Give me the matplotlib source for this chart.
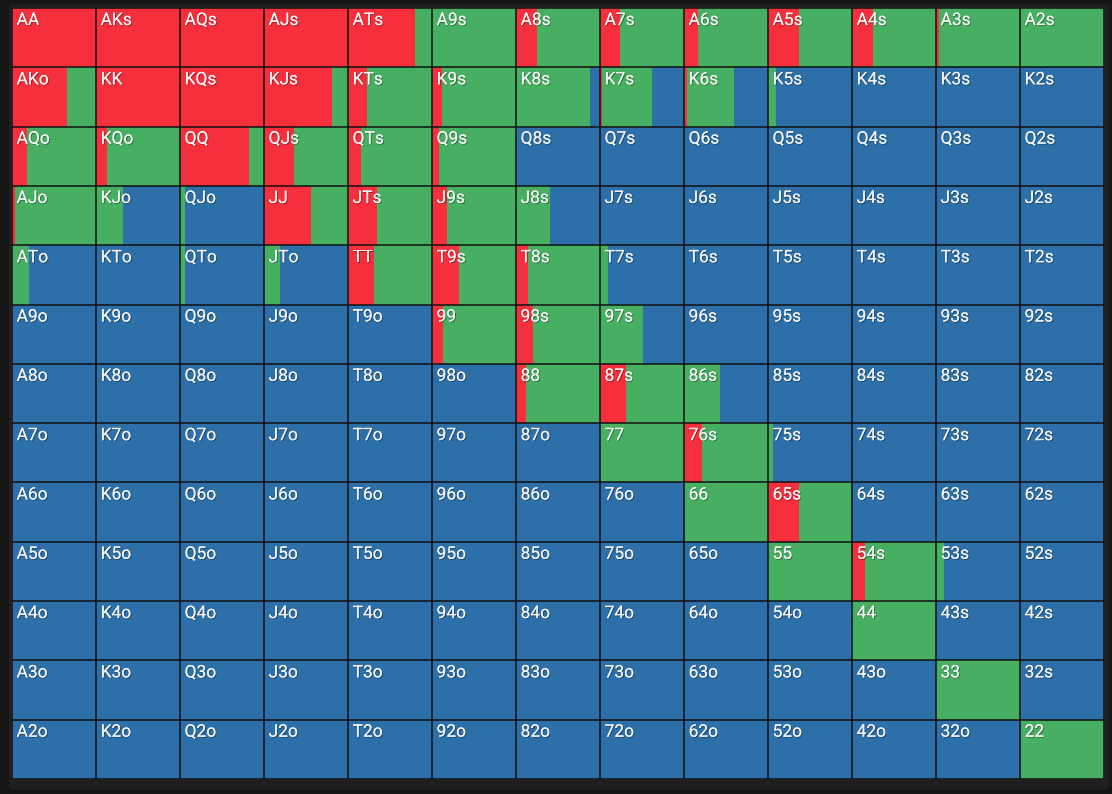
import matplotlib
matplotlib.use("Agg")
import matplotlib.pyplot as plt
import matplotlib.patheffects as pe
from matplotlib.patches import FancyBboxPatch

# ranks, rows/cols of the hand grid
ranks = ["A", "K", "Q", "J", "T", "9", "8", "7", "6", "5", "4", "3", "2"]

# raise frequency per hand (row, col)
raise_freq = [
    [1, 1, 1, 1, 0.80, 0, 0.25, 0.24, 0.17, 0.37, 0.25, 0.03, 0],
    [0.65, 1, 1, 0.81, 0.23, 0.12, 0, 0.02, 0.035, 0, 0, 0, 0],
    [0.18, 0.13, 0.82, 0.36, 0.15, 0.08, 0, 0, 0, 0, 0, 0, 0],
    [0.03, 0, 0, 0.56, 0.34, 0.18, 0, 0, 0, 0, 0, 0, 0],
    [0, 0, 0, 0, 0.31, 0.32, 0.14, 0, 0, 0, 0, 0, 0],
    [0, 0, 0, 0, 0, 0.13, 0.20, 0, 0, 0, 0, 0, 0],
    [0, 0, 0, 0, 0, 0, 0.12, 0.31, 0, 0, 0, 0, 0],
    [0, 0, 0, 0, 0, 0, 0, 0, 0.21, 0, 0, 0, 0],
    [0, 0, 0, 0, 0, 0, 0, 0, 0, 0.37, 0, 0, 0],
    [0, 0, 0, 0, 0, 0, 0, 0, 0, 0, 0.15, 0, 0],
    [0, 0, 0, 0, 0, 0, 0, 0, 0, 0, 0, 0, 0],
    [0, 0, 0, 0, 0, 0, 0, 0, 0, 0, 0, 0, 0],
    [0, 0, 0, 0, 0, 0, 0, 0, 0, 0, 0, 0, 0],
]

# call frequency per hand (row, col); fold is the rest
call_freq = [
    [0, 0, 0, 0, 0.20, 1, 0.75, 0.76, 0.83, 0.63, 0.75, 0.97, 1],
    [0.35, 0, 0, 0.19, 0.77, 0.88, 0.88, 0.60, 0.56, 0.10, 0, 0, 0],
    [0.82, 0.87, 0.18, 0.64, 0.85, 0.92, 0, 0, 0, 0, 0, 0, 0],
    [0.97, 0.32, 0.06, 0.44, 0.66, 0.82, 0.40, 0, 0, 0, 0, 0, 0],
    [0.20, 0, 0.06, 0.19, 0.69, 0.68, 0.86, 0.09, 0, 0, 0, 0, 0],
    [0, 0, 0, 0, 0, 0.87, 0.80, 0.51, 0, 0, 0, 0, 0],
    [0, 0, 0, 0, 0, 0, 0.88, 0.69, 0.43, 0, 0, 0, 0],
    [0, 0, 0, 0, 0, 0, 0, 1.0, 0.79, 0.065, 0, 0, 0],
    [0, 0, 0, 0, 0, 0, 0, 0, 1.0, 0.63, 0, 0, 0],
    [0, 0, 0, 0, 0, 0, 0, 0, 0, 1.0, 0.85, 0.09, 0],
    [0, 0, 0, 0, 0, 0, 0, 0, 0, 0, 1.0, 0, 0],
    [0, 0, 0, 0, 0, 0, 0, 0, 0, 0, 0, 1.0, 0],
    [0, 0, 0, 0, 0, 0, 0, 0, 0, 0, 0, 0, 1.0],
]

RED = "#F52F3C"
GREEN = "#47AF62"
BLUE = "#2C6FA9"

W, H = 1112, 794
fig = plt.figure(figsize=(W / 100, H / 100), dpi=100, facecolor="#151515")

# dark panel behind the grid
panel = FancyBboxPatch((9 / W, 4 / H), 1100 / W, 786 / H,
                       boxstyle="round,pad=0,rounding_size=0.006",
                       transform=fig.transFigure, facecolor="#1f1f1f",
                       edgecolor="none", zorder=-5)
fig.patches.append(panel)

ax = fig.add_axes([12 / W, (H - 779) / H, 1092 / W, 771 / H])
ax.set_zorder(5)
ax.patch.set_alpha(0)
n = len(ranks)

for i in range(n):
    r = raise_freq[i]
    c = call_freq[i]
    f = [1 - a - b for a, b in zip(r, c)]
    lefts = list(range(n))
    ax.barh([i] * n, r, left=lefts, height=1, align="edge", color=RED, linewidth=0)
    ax.barh([i] * n, c, left=[x + a for x, a in zip(lefts, r)], height=1,
            align="edge", color=GREEN, linewidth=0)
    ax.barh([i] * n, f, left=[x + a + b for x, a, b in zip(lefts, r, c)], height=1,
            align="edge", color=BLUE, linewidth=0)

# grid lines
for k in range(n + 1):
    ax.axvline(k, color="#111111", lw=1.1)
    ax.axhline(k, color="#111111", lw=1.1)

shadow = [pe.withSimplePatchShadow(offset=(0.7, -0.7), shadow_rgbFace="black", alpha=0.35), pe.Normal()]
for i in range(n):
    for j in range(n):
        if i == j:
            lab = ranks[i] + ranks[j]
        elif j > i:
            lab = ranks[i] + ranks[j] + "s"
        else:
            lab = ranks[j] + ranks[i] + "o"
        ax.text(j + 0.055, i + 0.085, lab, ha="left", va="top", color="#f2f2f2",
                fontsize=12.5, family=["Roboto", "DejaVu Sans"], path_effects=shadow)

ax.set_xlim(0, n)
ax.set_ylim(n, 0)
ax.axis("off")

fig.savefig("out.png", dpi=100, facecolor=fig.get_facecolor())
